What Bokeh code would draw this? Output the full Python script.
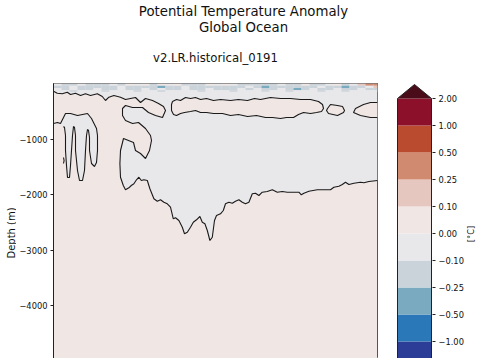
import numpy as np
from bokeh.plotting import figure
from bokeh.models import Range1d, FixedTicker
from bokeh.core.properties import value
from bokeh.layouts import row, column
from bokeh.embed import file_html
from bokeh.resources import INLINE

FONT = "DejaVu Sans"
TXT = "#111111"

# ---- texts ----
suptitle = ["Potential Temperature Anomaly", "Global Ocean"]
subtitle = "v2.LR.historical_0191"
ylabel = "Depth (m)"
cbar_label = "[\u00b0C]"

# ---- colour classes (boundaries of the colour bar) ----
levels = [-2.0, -1.0, -0.5, -0.25, -0.1, 0.0, 0.1, 0.25, 0.5, 1.0, 2.0]
tick_labels = ["\u22121.00", "\u22120.50", "\u22120.25", "\u22120.10", "0.00",
               "0.10", "0.25", "0.50", "1.00", "2.00"]
band_colors = ["#2b3d97", "#2a78b8", "#7aaabf", "#cbd3da", "#e8e7ea",
               "#f0e7e5", "#e6c7bf", "#d08a70", "#bb4b2f", "#8c102a"]
extend_color = "#4b0c1a"
class_index = {"m": 2, "b": 3, "g": 4, "p": 5, "r": 6, "o": 7}

# ---- time / depth extents ----
years = [1850, 2012]
depth_ticks = [-1000, -2000, -3000, -4000, -5000]
max_depth = -5500

# ---- near-surface band (4-year columns, four depth layers) ----
surf_year0 = 1850
surf_step = 4
surf_depths = [0, -40, -80, -120, -150]
surf_rows = [
    "gbbgbbbgbpgpbpgpbbbpgpgbbbbbgbbpbbgpbgroo",
    "bbgbbbbbgbbbbmbbgbbbbbbbgbmbbbbbbgbbmbbgr",
    "gbgbbgbbgbbgbgbbgbbgbbbgbgbbgbmbgbbgbbgbb",
    "ggbgggbgggbggbggggbgggbgggbggbgggbggbgggg",
]

# ---- zero contour: upper band, west edge, deep boundary (year, depth) ----
zc_year = [1850, 1851.9, 1854.4, 1856.9, 1858.5, 1861, 1863.5, 1866, 1868.5, 1871.9,
           1874.4, 1876, 1877.7, 1880.2, 1883.5, 1886, 1888.5, 1891, 1893.5, 1896,
           1899.5, 1902.5, 1905, 1906, 1904.5, 1901, 1897.5, 1894.5, 1889.5, 1886,
           1884.5, 1884.5, 1886, 1889.5, 1892.5, 1896, 1898.5, 1899, 1898, 1896,
           1893.5, 1891, 1890, 1885,
           1883.5, 1883.2, 1883.5, 1884.9, 1886, 1887.7, 1888.9, 1890.2, 1891.5, 1892.7,
           1893.9, 1895.2, 1896.9, 1898.2, 1900.2, 1901.9, 1903.5, 1905.2, 1906.9, 1908.5,
           1909.9, 1911, 1912.7, 1914.4, 1915.5, 1916.9, 1918.5, 1919.9, 1921.5, 1923.2,
           1924.4, 1925.7, 1926.9, 1928.2, 1929.4, 1930.5, 1931.5, 1933.5,
           1934.9, 1936, 1937.7, 1939.4, 1941, 1942.7, 1944.4, 1946, 1947.7, 1949.4,
           1951, 1952.7, 1954.4, 1956.9, 1959.4, 1961.9, 1964.4, 1966.9, 1970.2, 1972.7,
           1973.9, 1975.2, 1977.7, 1981.9, 1988.5, 1990.2, 1992.7, 1994.4, 1996, 1997.7,
           2000.2, 2003.5, 2005.2, 2007.7, 2012]
zc_depth = [-139, -175, -185, -157, -198, -175, -216, -185, -216, -185,
            -234, -306, -247, -216, -247, -288, -270, -252, -342, -270,
            -306, -360, -414, -486, -612, -576, -522, -432, -432, -396,
            -450, -576, -666, -720, -702, -810, -936, -1026, -1206, -1350,
            -1260, -1206, -1062, -990,
            -1206, -1445, -1687, -1836, -1913, -1877, -1836, -1805, -1733, -1687,
            -1746, -1733, -1746, -1895, -2075, -2119, -2093, -2137, -2165, -2227,
            -2435, -2417, -2466, -2587, -2705, -2677, -2587, -2497, -2453, -2394,
            -2497, -2525, -2646, -2826, -2767, -2466, -2376, -2345,
            -2286, -2165, -2137, -2155, -2119, -2093, -2137, -2165, -2137, -1985,
            -1975, -2016, -1957, -1944, -1913, -1957, -1944, -1957, -1957, -1957,
            -2003, -1975, -1939, -1913, -1913, -1867, -1849, -1818, -1777, -1818,
            -1795, -1777, -1787, -1764, -1746]

# ---- warm layer below the surface band (closed contour) ----
band_year = [1909.5, 1911.5, 1913.5, 1916, 1918.5, 1921, 1923.5, 1926.5, 1930, 1933.5,
             1938.5, 1942.5, 1947, 1950.5, 1953.5, 1958.5, 1963.5, 1968.5, 1973.5, 1978.5,
             1982.5, 1984.5, 1985, 1984,
             1981.5, 1978.5, 1975, 1972.5, 1970, 1966.5, 1963.5, 1959.5, 1956, 1951.5,
             1947, 1942.5, 1938.5, 1934.5, 1930, 1926.5, 1923.5, 1921, 1918.5, 1915.5,
             1913.5, 1911.5, 1910, 1909, 1909, 1909.5]
band_depth = [-324, -288, -306, -252, -270, -252, -288, -270, -306, -288,
              -306, -288, -306, -270, -288, -252, -270, -270, -288, -288,
              -324, -378, -450, -504,
              -522, -540, -522, -558, -612, -612, -630, -612, -612, -576,
              -594, -558, -576, -540, -540, -522, -522, -486, -504, -522,
              -540, -576, -558, -486, -378, -324]

loop1_year = [1987, 1988.5, 1992, 1994.5, 1995.5, 1995, 1992, 1987.5, 1986.5, 1987]
loop1_depth = [-450, -378, -396, -414, -486, -522, -576, -540, -486, -450]

loop2_year = [2012, 2008.5, 2005, 2001, 2000, 2003.5, 2008.5, 2012]
loop2_depth = [-342, -342, -378, -450, -522, -576, -612, -612]

# ---- cool comb with three fingers in the west ----
west_year = [1850, 1852, 1853.5, 1855, 1856, 1858.5, 1862, 1864.5, 1867, 1869,
             1870.5, 1871.5, 1872, 1872, 1871.5, 1870.5, 1869, 1868, 1868, 1867.5,
             1867, 1866.5, 1866, 1865.5, 1864.5, 1863, 1862, 1861, 1861, 1860.5,
             1860, 1859.5, 1859, 1858.5, 1858, 1857, 1856.5, 1856, 1856, 1855.5, 1855]
west_depth = [-720, -702, -720, -612, -540, -540, -576, -558, -540, -630,
              -738, -810, -936, -1206, -1422, -1494, -1440, -1206, -972, -846,
              -828, -936, -1206, -1566, -1746, -1746, -1566, -1206, -936, -792,
              -774, -936, -1206, -1476, -1692, -1692, -1476, -1206, -936, -792, -774]

# small closed contour beside the first finger
speck_year = [1855, 1855.3, 1855]
speck_depth = [-1332, -1390, -1440]


def bare(fig):
    fig.grid.visible = False
    fig.outline_line_color = None
    fig.background_fill_color = "white"
    fig.border_fill_color = "white"
    return fig


# ======================= titles strip =======================
tf = bare(figure(width=476, height=82, x_range=Range1d(0, 476), y_range=Range1d(0, 82),
                 output_backend="svg", toolbar_location=None, x_axis_location=None,
                 y_axis_location=None, min_border=0))
tf.text(x=[243, 243], y=[71, 55.5], text=suptitle, text_font=value(FONT),
        text_font_size="13.3px", text_color=TXT, text_align="center",
        text_baseline="middle")
tf.text(x=[215], y=[24.5], text=[subtitle], text_font=value(FONT),
        text_font_size="11.7px", text_color=TXT, text_align="center",
        text_baseline="middle")

# ======================= y-label strip =======================
yf = bare(figure(width=16, height=276, x_range=Range1d(0, 16), y_range=Range1d(0, 276),
                 output_backend="svg", toolbar_location=None, x_axis_location=None,
                 y_axis_location=None, min_border=0))
yf.text(x=[10.5], y=[126], text=[ylabel], text_font=value(FONT), text_font_size="10px",
        text_color=TXT, text_align="center", text_baseline="middle", angle=np.pi / 2)

# ======================= main panel =======================
p = figure(frame_width=324, frame_height=275,
           x_range=Range1d(years[0], years[1]), y_range=Range1d(-4950, 0),
           output_backend="svg", toolbar_location=None, x_axis_location=None,
           min_border_left=37, min_border_right=16, min_border_top=1,
           min_border_bottom=0)
p.grid.visible = False
p.outline_line_color = "#222222"
p.outline_line_width = 1
p.background_fill_color = "white"
p.border_fill_color = "white"

# warm (0 .. 0.1) background field
p.quad(left=[years[0]], right=[years[1]], top=[0], bottom=[max_depth],
       fill_color=band_colors[5], line_color=None)

# cool region above / right of the zero contour
p.patch(zc_year + [years[1], years[0]], zc_depth + [0, 0],
        fill_color=band_colors[4], line_color=None)
p.patch(west_year, west_depth, fill_color=band_colors[4], line_color=None)
p.patches([band_year, loop1_year, loop2_year], [band_depth, loop1_depth, loop2_depth],
          fill_color=band_colors[5], line_color=None)

# near-surface speckle
ql, qr, qt, qb, qc = [], [], [], [], []
for r, s in enumerate(surf_rows):
    for k, ch in enumerate(s):
        ql.append(surf_year0 + k * surf_step)
        qr.append(min(surf_year0 + (k + 1) * surf_step, years[1]))
        qt.append(surf_depths[r])
        qb.append(surf_depths[r + 1])
        qc.append(band_colors[class_index[ch]])
p.quad(left=ql, right=qr, top=qt, bottom=qb, fill_color=qc, line_color=None)

# contour lines
lc = "#1a1a1a"
for xs, ys in [(zc_year, zc_depth), (west_year, west_depth), (band_year, band_depth),
               (loop1_year, loop1_depth), (loop2_year, loop2_depth),
               (speck_year, speck_depth)]:
    p.line(xs, ys, line_color=lc, line_width=1.1)

p.yaxis.ticker = FixedTicker(ticks=depth_ticks)
p.yaxis.major_label_overrides = {t: "\u2212" + str(-t) for t in depth_ticks}
p.yaxis.minor_tick_line_color = None
p.yaxis.major_tick_in = 0
p.yaxis.major_tick_out = 3
p.yaxis.major_label_standoff = 3
p.yaxis.axis_line_color = "#222222"
p.yaxis.major_tick_line_color = "#222222"
p.yaxis.major_label_text_font = FONT
p.yaxis.major_label_text_font_size = "8.3px"
p.yaxis.major_label_text_color = TXT

# ======================= colour bar =======================
n = len(band_colors)
cb = figure(frame_width=36, frame_height=276,
            x_range=Range1d(-1 / 34, 1 + 1 / 34), y_range=Range1d(0.3333, 10.5556),
            output_backend="svg", toolbar_location=None, x_axis_location=None,
            y_axis_location="right", min_border_left=3, min_border_right=33,
            min_border_top=0, min_border_bottom=0)
cb.grid.visible = False
cb.outline_line_color = None
cb.background_fill_color = "white"
idx = list(range(n))
cb.quad(left=0, right=1, bottom=idx, top=[i + 1 for i in idx], fill_color=band_colors,
        line_color=None)
cb.patch([0, 1, 0.5], [n, n, n + 0.5185], fill_color=extend_color, line_color=None)
cb.line([0, 0, 0.5, 1, 1], [0, n, n + 0.5185, n, 0], line_color="#222222", line_width=1)

cb.yaxis.ticker = FixedTicker(ticks=list(range(1, n + 1)))
cb.yaxis.major_label_overrides = {i + 1: tick_labels[i] for i in range(n)}
cb.yaxis.minor_tick_line_color = None
cb.yaxis.major_tick_in = 0
cb.yaxis.major_tick_out = 3
cb.yaxis.major_label_standoff = 3
cb.yaxis.axis_line_color = None
cb.yaxis.major_tick_line_color = "#222222"
cb.yaxis.major_label_text_font = FONT
cb.yaxis.major_label_text_font_size = "8.3px"
cb.yaxis.major_label_text_color = TXT

# ======================= colour-bar label strip =======================
lf = bare(figure(width=11, height=276, x_range=Range1d(0, 11), y_range=Range1d(0, 276),
                 output_backend="svg", toolbar_location=None, x_axis_location=None,
                 y_axis_location=None, min_border=0))
lf.text(x=[4], y=[125], text=[cbar_label], text_font=value(FONT), text_font_size="8.3px",
        text_color=TXT, text_align="center", text_baseline="middle", angle=np.pi / 2)

layout = column(tf, row(yf, p, cb, lf))
open("out.html", "w").write(file_html(layout, INLINE))
